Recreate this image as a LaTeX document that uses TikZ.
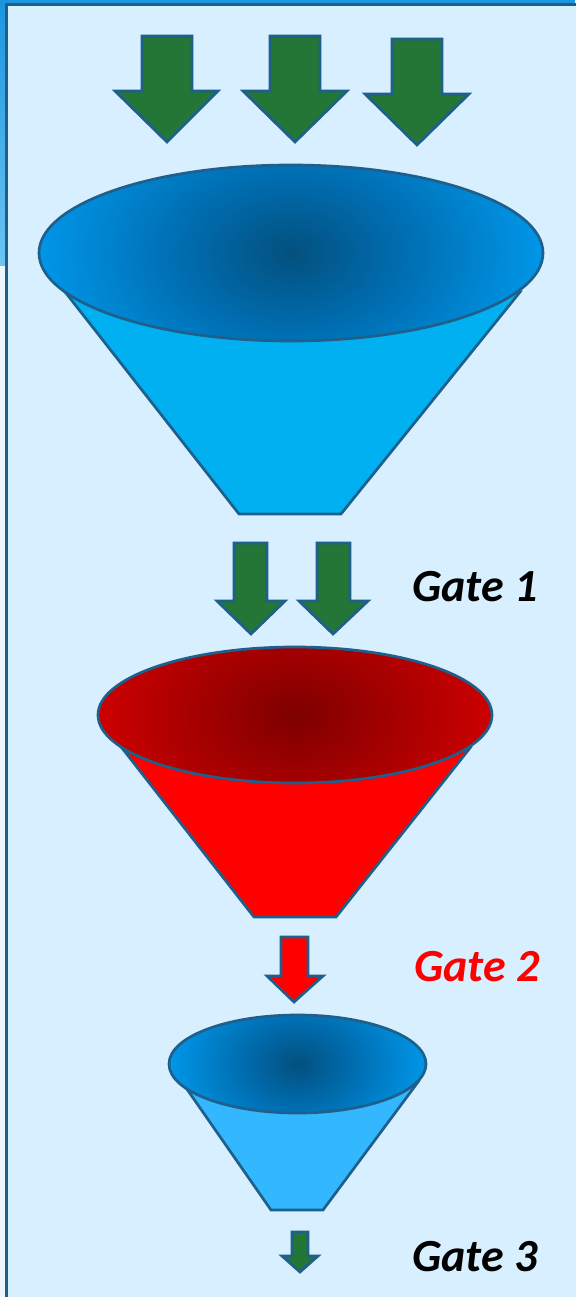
\documentclass[tikz,border=0pt]{standalone}
\usepackage{fontspec}
\setmainfont{Carlito}
\definecolor{framebg}{HTML}{D7EFFE}
\definecolor{edgeblue}{HTML}{1F5F8B}
\definecolor{topblue}{HTML}{1B95DF}
\definecolor{leftlight}{HTML}{6CC4F2}
\definecolor{outside}{HTML}{EEF7FD}
\definecolor{arrowgreen}{HTML}{237636}
\definecolor{bluec}{HTML}{03507E}
\definecolor{bluem}{HTML}{006DB0}
\definecolor{bluee}{HTML}{0096E8}
\definecolor{redc}{HTML}{7E0000}
\definecolor{redm}{HTML}{A00000}
\definecolor{rede}{HTML}{CC0000}
\definecolor{cone1}{HTML}{00B0F0}
\definecolor{cone2}{HTML}{FF0000}
\definecolor{cone3}{HTML}{33B7FF}
\pgfdeclareradialshading{blueglow}{\pgfpointorigin}{color(0bp)=(bluec); color(11bp)=(bluem); color(25bp)=(bluee); color(50bp)=(bluee)}
\pgfdeclareradialshading{redglow}{\pgfpointorigin}{color(0bp)=(redc); color(11bp)=(redm); color(25bp)=(rede); color(50bp)=(rede)}
\tikzset{
  outl/.style={draw=edgeblue, line width=2.7pt, line join=miter},
  greenarrow/.style={outl, fill=arrowgreen},
  redarrow/.style={outl, fill=red},
  gatelabel/.style={anchor=base west, inner sep=0pt, font=\fontsize{46}{54}\selectfont\bfseries\itshape}
}
% arrow: style, shaft x1 x2, top yt, head line yh, wings w1 w2, tip xt ytip
\newcommand\gatearrow[9]{%
  \draw[#1] (#2,#4) -- (#3,#4) -- (#3,#5) -- (#7,#5) -- (#8,#9) -- (#6,#5) -- (#2,#5) -- cycle;}
\begin{document}
\begin{tikzpicture}[x=1pt,y=-1pt]
\useasboundingbox (0,0) rectangle (575,1297);
% outside strips
\fill[outside] (0,0) rectangle (575,1297);
\fill[topblue] (0,0) rectangle (575,4);
\shade[top color=topblue, bottom color=leftlight] (0,0) rectangle (6,265);
% frame
\draw[draw=edgeblue, line width=3pt, fill=framebg] (6.5,4.8) rectangle (590,1310);

% top arrows
\gatearrow{greenarrow}{142}{192}{36}{91}{115}{218}{167}{142}
\gatearrow{greenarrow}{270}{320}{36}{91}{243}{347}{295}{142}
\gatearrow{greenarrow}{392}{442}{39}{94}{365}{469}{417}{145}

% funnel 1
\draw[outl, fill=cone1] (62,288) -- (239,514) -- (341,514) -- (520,292) -- cycle;
\begin{scope}
  \clip (291,253) ellipse [x radius=252, y radius=88];
  \shade[shading=blueglow] (39,77) rectangle (543,429);
\end{scope}
\draw[outl] (291,253) ellipse [x radius=252, y radius=88];

% gate 1 arrows
\gatearrow{greenarrow}{234}{267}{543}{601}{217}{285}{251}{634}
\gatearrow{greenarrow}{317}{350}{543}{601}{299}{368}{333}{634}
\node[gatelabel, text=black] (g1) at (412,601) {Gate 1};

% funnel 2
\draw[outl, fill=cone2] (122,748) -- (254,917) -- (336,917) -- (470,748) -- cycle;
\begin{scope}
  \clip (295,715) ellipse [x radius=197, y radius=68];
  \shade[shading=redglow] (98,579) rectangle (492,851);
\end{scope}
\draw[outl] (295,715) ellipse [x radius=197, y radius=68];

% gate 2 arrow
\gatearrow{redarrow}{281}{308}{937}{976}{267}{323}{294}{1002}
\node[gatelabel, text=red] (g2) at (414,981) {Gate 2};

% funnel 3
\draw[outl, fill=cone3] (182,1082) -- (271,1210) -- (323,1210) -- (418,1082) -- cycle;
\begin{scope}
  \clip (297.5,1064) ellipse [x radius=128.5, y radius=49];
  \shade[shading=blueglow] (169,966) rectangle (426,1162);
\end{scope}
\draw[outl] (297.5,1064) ellipse [x radius=128.5, y radius=49];

% gate 3 arrow
\gatearrow{greenarrow}{292}{308}{1232}{1256}{282}{318}{300}{1272}
\node[gatelabel, text=black] (g3) at (412,1271) {Gate 3};
\end{tikzpicture}
\end{document}
